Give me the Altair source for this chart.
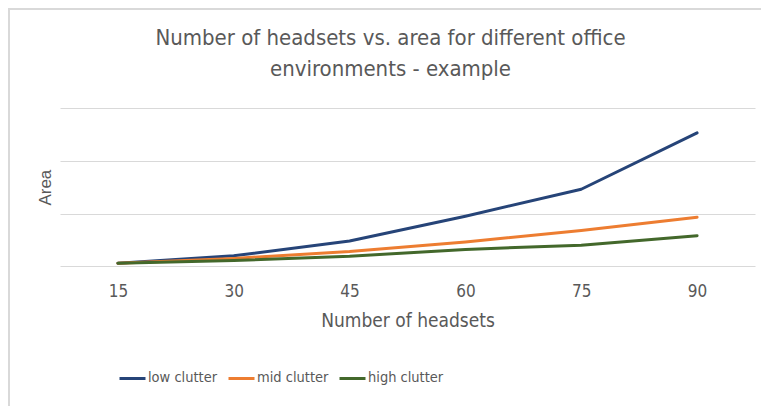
import altair as alt
import pandas as pd

headsets = [15, 30, 45, 60, 75, 90]
series = ["low clutter", "mid clutter", "high clutter"]
low_clutter = [0.06, 0.20, 0.48, 0.95, 1.46, 2.53]
mid_clutter = [0.06, 0.15, 0.28, 0.46, 0.68, 0.93]
high_clutter = [0.06, 0.11, 0.19, 0.32, 0.40, 0.58]
colors = ["#264478", "#ED7D31", "#43682B"]
y_grid = [0, 1, 2, 3]

rows = []
for name, vals in zip(series, [low_clutter, mid_clutter, high_clutter]):
    for h, v in zip(headsets, vals):
        rows.append({"headsets": h, "area": v, "series": name})
df = pd.DataFrame(rows)

COND = "Liberation Sans Narrow, DejaVu Sans Condensed, Roboto Condensed, sans-serif"
GRAY = "#595959"

lines = alt.Chart(df).mark_line(strokeWidth=3, strokeJoin="round", strokeCap="round").encode(
    x=alt.X("headsets:O", sort=headsets,
            scale=alt.Scale(type="point", padding=0.5),
            axis=alt.Axis(title="Number of headsets", labelAngle=0, ticks=False, domain=False,
                          labelFont=COND, labelFontSize=17, labelColor=GRAY, labelPadding=17,
                          titleFont=COND, titleFontSize=19, titleColor=GRAY,
                          titleFontWeight="normal", titlePadding=12)),
    y=alt.Y("area:Q", scale=alt.Scale(domain=[0, 3], nice=False),
            axis=alt.Axis(title="Area", values=y_grid, labels=False, ticks=False, domain=False,
                          grid=True, gridColor="#D9D9D9", gridWidth=1,
                          titleFont="Liberation Sans, sans-serif", titleFontSize=17,
                          titleColor=GRAY, titleFontWeight="normal", titlePadding=6)),
    color=alt.Color("series:N", sort=series,
                    scale=alt.Scale(domain=series, range=colors),
                    legend=alt.Legend(title=None, orient="none", legendX=58, legendY=256,
                                      direction="horizontal", symbolType="stroke",
                                      symbolSize=676, symbolStrokeWidth=3,
                                      labelFont=COND, labelFontSize=14.5, labelColor=GRAY,
                                      labelOffset=1, columnPadding=4)),
)

border_top = alt.Chart(pd.DataFrame({"k": [0]})).mark_rule(color="#D9D9D9", strokeWidth=2, clip=False).encode(
    x=alt.value(-53), x2=alt.value(709), y=alt.value(-99)
)
border_left = alt.Chart(pd.DataFrame({"k": [0]})).mark_rule(color="#D9D9D9", strokeWidth=2, clip=False).encode(
    x=alt.value(-51), y=alt.value(-100), y2=alt.value(300)
)

chart = alt.layer(lines, border_top, border_left).properties(
    width=695,
    height=158.3,
    padding={"left": 52, "top": 100, "right": 6, "bottom": 140},
    autosize=alt.AutoSizeParams(type="none"),
    title=alt.TitleParams(
        text=["Number of headsets vs. area for different office", "environments - example"],
        anchor="middle", frame="group", font=COND, fontSize=22, fontWeight="normal",
        color=GRAY, lineHeight=31, baseline="alphabetic", offset=-91, dx=-17,
    ),
).configure(background="white").configure_view(strokeWidth=0, stroke="transparent")

chart.save("out.html", embed_options={"renderer": "svg", "actions": False})
